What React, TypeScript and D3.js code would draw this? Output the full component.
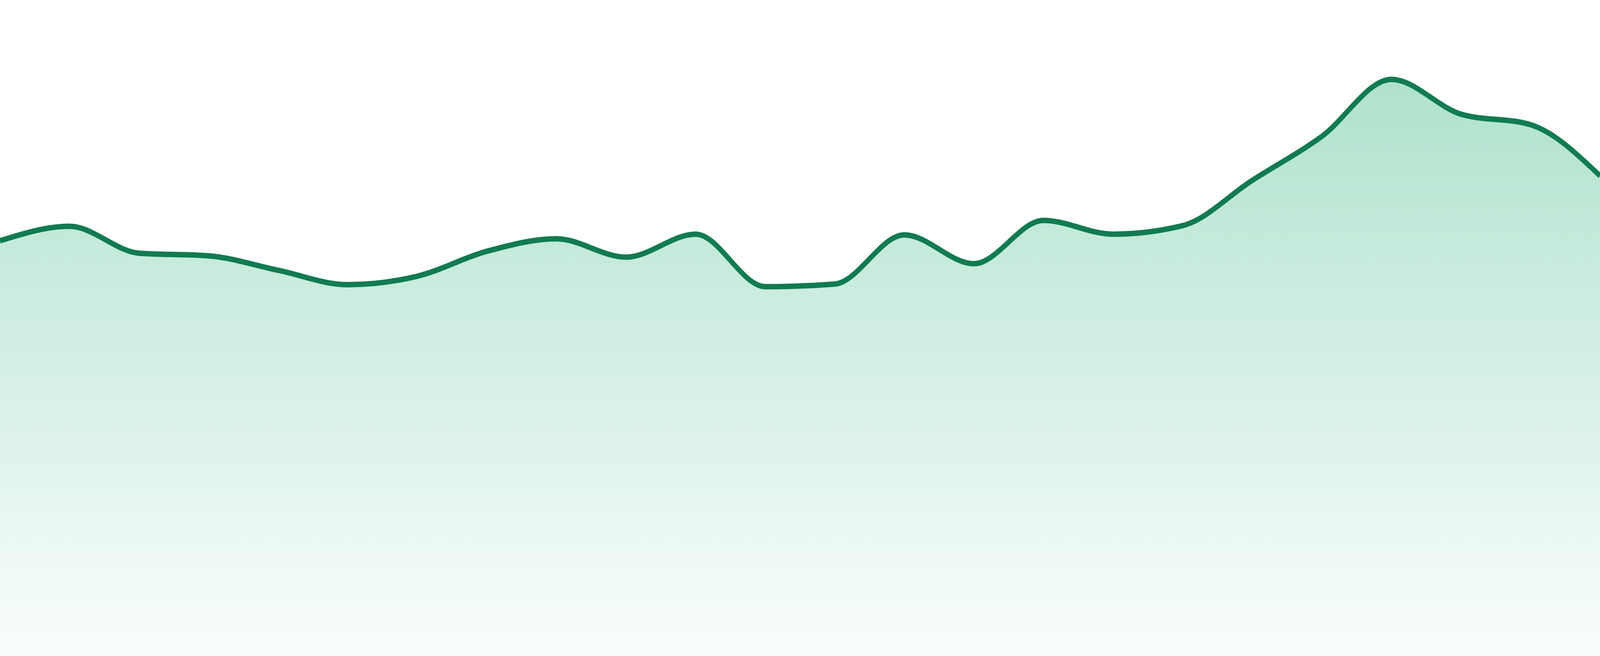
import React from "react";
import * as d3 from "d3";

const WIDTH = 4800;
const HEIGHT = 1680;

// Series values (index = period)
const periods: number[] = Array.from({ length: 24 }, (_, i) => i);
const values: number[] = [
  63.3, 65.5, 61.4, 61.0, 58.8, 56.6, 57.9, 61.7, 63.6, 60.8, 64.3, 56.3,
  56.7, 64.2, 59.8, 66.4, 64.3, 65.6, 72.5, 79.2, 87.9, 82.6, 81.0, 73.2,
];

const LINE_COLOR = "#117b51";
const FILL_COLOR = "#14aa6e";

export default function App() {
  const x = d3.scaleLinear().domain([0, periods.length - 1]).range([0, WIDTH]);
  const y = d3.scaleLinear().domain([0, 100]).range([HEIGHT, 0]);

  const data = periods.map((p, i) => ({ p, v: values[i] }));

  const area = d3
    .area<{ p: number; v: number }>()
    .x((d) => x(d.p))
    .y0(HEIGHT)
    .y1((d) => y(d.v))
    .curve(d3.curveMonotoneX);

  const line = d3
    .line<{ p: number; v: number }>()
    .x((d) => x(d.p))
    .y((d) => y(d.v))
    .curve(d3.curveMonotoneX);

  return (
    <svg
      viewBox={`0 0 ${WIDTH} ${HEIGHT}`}
      preserveAspectRatio="none"
      style={{ position: "fixed", left: 0, top: 0, width: "100vw", height: "100vh", display: "block", background: "#ffffff" }}
    >
      <defs>
        <linearGradient id="areaFill" x1="0" y1="0" x2="0" y2="1">
          <stop offset="0%" stopColor={FILL_COLOR} stopOpacity={0.34} />
          <stop offset="100%" stopColor={FILL_COLOR} stopOpacity={0.02} />
        </linearGradient>
      </defs>
      <path d={area(data) || ""} fill="url(#areaFill)" stroke="none" />
      <path d={line(data) || ""} fill="none" stroke={LINE_COLOR} strokeWidth={14} strokeLinejoin="round" />
    </svg>
  );
}
